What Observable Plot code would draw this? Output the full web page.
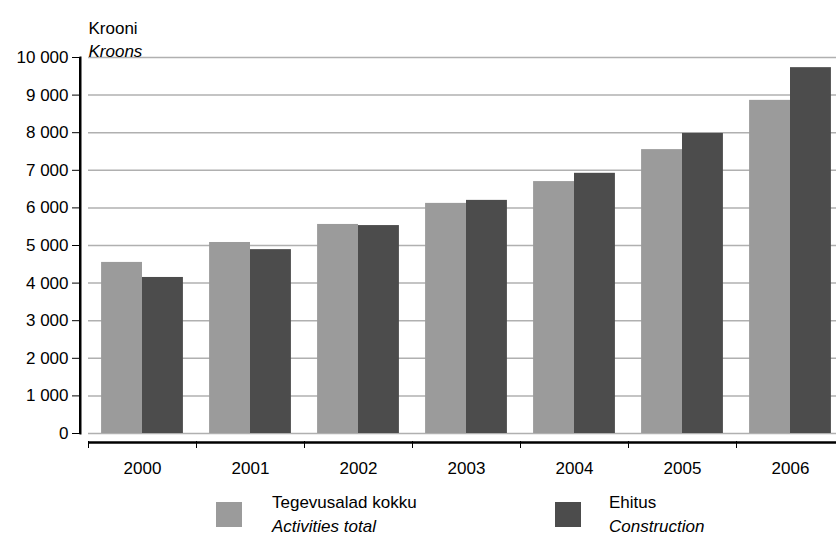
<!DOCTYPE html>
<html>
<head>
<meta charset="utf-8">
<script src="https://cdn.jsdelivr.net/npm/d3@7"></script>
<script src="https://cdn.jsdelivr.net/npm/@observablehq/plot@0.6"></script>
<style>
  html, body { margin: 0; padding: 0; background: #fff; overflow: hidden; }
  body { font-family: "Liberation Sans", Arial, sans-serif; width: 836px; height: 536px; }
  #legend { position: relative; width: 836px; height: 46px; font-size: 17px; color: #000; }
  #legend .sw { position: absolute; top: 12px; width: 26px; height: 25px; }
  #legend .t { position: absolute; line-height: 23.5px; top: 1px; white-space: nowrap; }
  #legend i { font-style: italic; }
</style>
</head>
<body>
<div id="chart"></div>
<div id="legend"></div>
<script>
// ---- data ----
const years = ["2000", "2001", "2002", "2003", "2004", "2005", "2006"];
const seriesKeys = ["Tegevusalad kokku", "Ehitus"];
const seriesEnglish = ["Activities total", "Construction"];
const totalValues = [4550, 5080, 5560, 6120, 6700, 7550, 8860];
const constructionValues = [4150, 4890, 5530, 6200, 6920, 7980, 9730];
const yTicks = [0, 1000, 2000, 3000, 4000, 5000, 6000, 7000, 8000, 9000, 10000];
const unitLabel = "Krooni";
const unitLabelEn = "Kroons";

// ---- styling / layout ----
const colors = ["#9b9b9b", "#4c4c4c"];
const W = 836, H = 490;
const axisGap = 8;                 // gap between y-axis line and plotting area
const mLeft = 80, mTop = 57, mBottom = 57;
const xStart = mLeft + axisGap, xEnd = xStart + 108 * years.length;
const step = (xEnd - xStart) / years.length;
const padOuter = 0.32;
const barW = step / (2 + 2 * padOuter);
const padL = padOuter * barW;
const fmt = d3.formatLocale({thousands: "\u00a0", grouping: [3], decimal: ","}).format(",d");

const totalRows = years.map((y, i) => ({year: y, series: seriesKeys[0], value: totalValues[i]}));
const constructionRows = years.map((y, i) => ({year: y, series: seriesKeys[1], value: constructionValues[i]}));

const plot = Plot.plot({
  width: W,
  height: H,
  marginLeft: mLeft,
  marginRight: 0,
  marginTop: mTop,
  marginBottom: mBottom,
  style: {fontFamily: '"Liberation Sans", Arial, sans-serif', fontSize: "17px", color: "#000", background: "#fff"},
  x: {domain: years, range: [xStart, xEnd], padding: 0, round: false, label: null},
  y: {domain: [0, 10000], label: null},
  color: {domain: seriesKeys, range: colors},
  marks: [
    Plot.gridY(yTicks, {insetLeft: axisGap, stroke: "#b0b0b0", strokeOpacity: 1, strokeWidth: 1.5}),
    Plot.barY(totalRows, {x: "year", y: "value", fill: "series", insetLeft: padL, insetRight: step - padL - barW}),
    Plot.barY(constructionRows, {x: "year", y: "value", fill: "series", insetLeft: padL + barW, insetRight: padL}),
    Plot.frame({anchor: "left", stroke: "#000", strokeWidth: 2}),
    Plot.axisY(yTicks, {tickFormat: fmt, tickSize: 8, tickPadding: 4, fontSize: 17, label: null, stroke: "#000", fill: "#000"}),
    Plot.ruleY([0], {dy: 9, insetLeft: axisGap, stroke: "#000", strokeWidth: 2.5}),
    Plot.axisX({anchor: "bottom", tickSize: 7, tickFormat: () => "", dx: -step / 2, dy: 8, label: null, stroke: "#000"}),
    Plot.axisX({anchor: "bottom", tickSize: 0, tickPadding: 28, fontSize: 17, label: null, fill: "#000"}),
    Plot.text([unitLabel], {text: d => d, frameAnchor: "top-left", textAnchor: "start", dx: axisGap, dy: -35.7, fontSize: 17, fill: "#000"}),
    Plot.text([unitLabelEn], {text: d => d, frameAnchor: "top-left", textAnchor: "start", dx: axisGap, dy: -12.4, fontSize: 17, fontStyle: "italic", fill: "#000"})
  ]
});
document.getElementById("chart").appendChild(plot);

// vertical y-axis line, placed with Plot's own scales (fallback if the frame line is not drawn)
const svgEl = plot.tagName.toLowerCase() === "svg" ? plot : plot.querySelector("svg");
const yScale = plot.scale("y");
d3.select(svgEl).append("rect")
  .attr("x", mLeft - 1)
  .attr("width", 2)
  .attr("y", yScale.apply(yTicks[yTicks.length - 1]))
  .attr("height", yScale.apply(yTicks[0]) - yScale.apply(yTicks[yTicks.length - 1]))
  .attr("fill", "#000");

// ---- legend ----
const legend = document.getElementById("legend");
const swX = [216, 555];
const txtX = [272, 609];
seriesKeys.forEach((k, i) => {
  const sw = document.createElement("div");
  sw.className = "sw";
  sw.style.left = swX[i] + "px";
  sw.style.background = colors[i];
  legend.appendChild(sw);
  const t = document.createElement("div");
  t.className = "t";
  t.style.left = txtX[i] + "px";
  t.innerHTML = k + "<br><i>" + seriesEnglish[i] + "</i>";
  legend.appendChild(t);
});
</script>
</body>
</html>
